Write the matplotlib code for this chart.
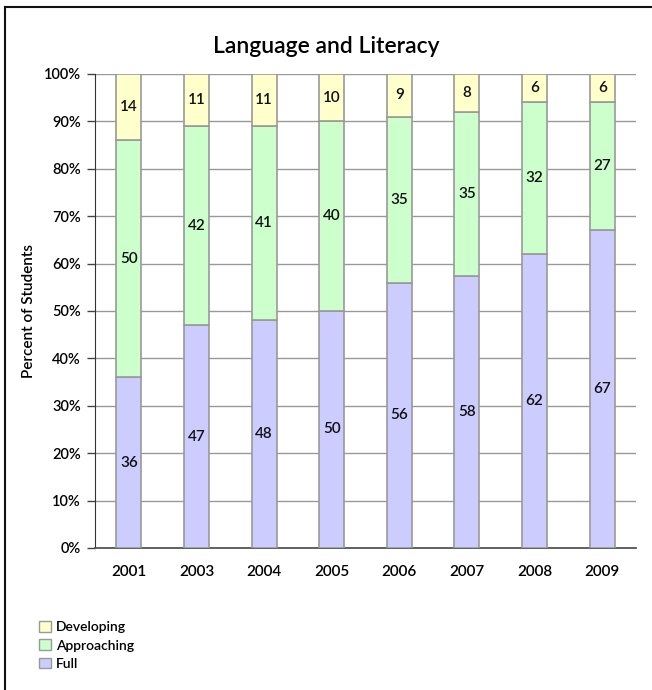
import matplotlib.pyplot as plt
from matplotlib.lines import Line2D
from matplotlib.patches import Patch
import numpy as np

plt.rcParams['font.family'] = ['Lato', 'DejaVu Sans']

years = ["2001", "2003", "2004", "2005", "2006", "2007", "2008", "2009"]
full = [36, 47, 48, 50, 56, 58, 62, 67]
approaching = [50, 42, 41, 40, 35, 35, 32, 27]
developing = [14, 11, 11, 10, 9, 8, 6, 6]

series = [("Full", full, "#ccccff"),
          ("Approaching", approaching, "#ccffcc"),
          ("Developing", developing, "#ffffcc")]

fig = plt.figure(figsize=(6.52, 6.9), dpi=100)
ax = fig.add_axes([0.1457, 0.2058, 0.8298, 0.687])

x = np.arange(len(years))
totals = np.array(full) + np.array(approaching) + np.array(developing)
bottom = np.zeros(len(years))
for name, vals, color in series:
    pct = np.array(vals) / totals * 100
    ax.bar(x, pct, 0.37, bottom=bottom, color=color, edgecolor="#999999",
           linewidth=1.2, zorder=3)
    for xi, b, h, v in zip(x, bottom, pct, vals):
        ax.text(xi, b + h / 2, str(v), ha="center", va="center",
                fontsize=11, fontweight="semibold", color="#111111", zorder=4)
    bottom = bottom + pct

ax.set_xlim(-0.5, len(years) - 0.5)
ax.set_ylim(0, 100)
ax.set_yticks(range(0, 101, 10))
ax.set_yticklabels([f"{v}%" for v in range(0, 101, 10)], fontsize=10.5,
                   fontweight="semibold")
ax.set_xticks(x)
ax.set_xticklabels(years, fontsize=11, fontweight="semibold")
ax.tick_params(axis="x", length=0, pad=12)
ax.tick_params(axis="y", length=6, width=1, color="#444444", pad=4)
ax.yaxis.grid(True, color="#999999", linewidth=1, zorder=0)
for s in ["top", "right"]:
    ax.spines[s].set_visible(False)
ax.spines["left"].set_color("#333333")
ax.spines["bottom"].set_color("#555555")
ax.spines["bottom"].set_linewidth(1.3)
ax.set_ylabel("Percent of Students", fontsize=11, fontweight="semibold",
              labelpad=6)

fig.text(0.5, 0.933, "Language and Literacy", ha="center", va="center",
         fontsize=16.5, fontweight="semibold")

handles = [Patch(facecolor=c, edgecolor="#999999", label=n)
           for n, _, c in reversed(series)]
leg = fig.legend(handles=handles, loc="upper left",
                 bbox_to_anchor=(0.052, 0.108), frameon=False, fontsize=10,
                 handlelength=0.8, handleheight=0.8, handletextpad=0.4,
                 labelspacing=0.45, borderaxespad=0)
for t in leg.get_texts():
    t.set_fontweight("semibold")

fig.add_artist(Line2D([0.008, 0.008], [0, 0.99], transform=fig.transFigure,
                      color="#111111", linewidth=1.5))
fig.add_artist(Line2D([0.008, 1.0], [0.99, 0.99], transform=fig.transFigure,
                      color="#111111", linewidth=1.5))

fig.savefig("out.png", dpi=100)
